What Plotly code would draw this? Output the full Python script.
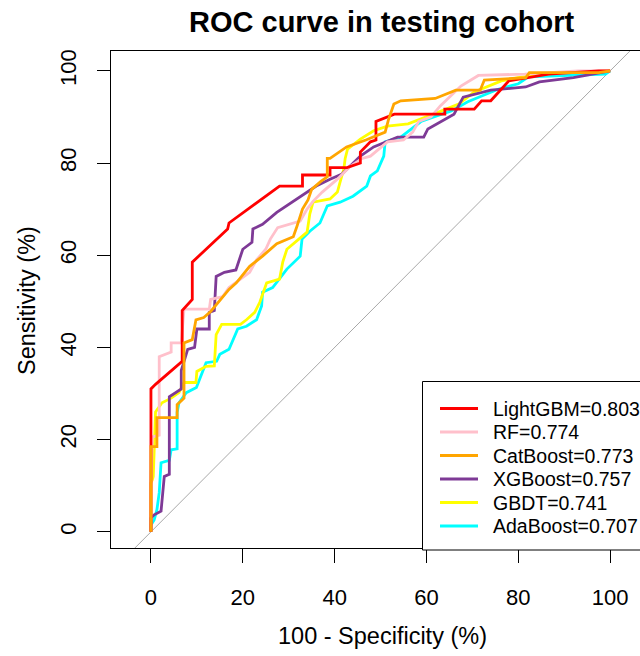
import plotly.graph_objects as go

# ---------------- data (percent) ----------------
model_names = ["LightGBM", "RF", "CatBoost", "XGBoost", "GBDT", "AdaBoost"]
auc_values = ["0.803", "0.774", "0.773", "0.757", "0.741", "0.707"]
model_colors = ["#FF0000", "#FFC0CB", "#FFA500", "#7E3A96", "#FFFF00", "#00FFFF"]

lgb_fpr = [0, 0, 0, 1, 6.8, 6.8, 9, 9, 14.3, 16.7, 17, 28, 33, 33, 39, 39, 42.7, 45.6, 45.6, 47.8,
           49, 49, 53, 64, 64, 70.4, 72, 74, 77.9, 86.6, 97.5, 100]
lgb_sens = [0, 12, 31, 32, 37, 48, 50.4, 58.5, 63.5, 65.7, 67, 75, 75, 77.4, 77.4, 79, 79, 80, 82.4, 84.6,
            85, 89, 90.6, 90.6, 91.7, 91.7, 93.5, 93.5, 97.8, 99.3, 100, 100]

rf_fpr = [0, 0, 0.3, 1.8, 1.8, 4.4, 4.4, 6.6, 7.2, 12.7, 13, 15.6, 17, 21.5, 23, 25, 26, 27.6, 32.5, 34,
          35.3, 37.3, 40.6, 43.4, 46, 47.8, 51.5, 55, 57, 58.3, 61, 63, 64.7, 67.5, 71.3, 81.4, 93, 100]
rf_sens = [0, 10, 20.6, 21, 38, 39, 41, 41, 48.3, 48.3, 50.4, 51, 53, 56.3, 59, 61.3, 63.5, 66, 67.4, 70,
           71.7, 73.7, 76.5, 79.3, 81, 81.5, 84.6, 85, 86.7, 89, 90, 92.4, 94, 96.7, 99, 99.3, 100, 100]

cat_fpr = [0, 0, 1.3, 1.3, 5.7, 5.7, 7.2, 7.2, 9, 9.8, 11.5, 13, 17, 18.6, 21.5, 24.3, 27.4, 28.7, 31, 31.8,
           33, 34.2, 35, 37, 38.4, 38.4, 39, 42.6, 46.8, 51, 51.7, 52.9, 54.4, 61.9, 64.3, 66.4, 71.7, 72.6,
           81.6, 82.4, 97.5, 100]
cat_sens = [0, 18.5, 18.5, 24.8, 24.8, 27.6, 29, 41, 41.7, 46, 46.5, 47.8, 52.6, 54, 57.6, 59.8, 62.5, 63, 64, 66.3,
            70, 72, 74.3, 76, 77, 81, 81, 83.5, 85, 86.7, 89.3, 92.8, 93.5, 94, 95, 95.8, 95.8, 98,
            98.5, 99.6, 99.6, 100]

xgb_fpr = [0, 0, 0.7, 2.2, 2.9, 4, 4, 6.6, 6.6, 8, 9.5, 10, 12.7, 12.7, 13.8, 14.2, 16, 18.5, 20, 22,
           22.2, 24.3, 27.4, 30, 32.5, 36, 39, 41.6, 45.6, 48.5, 53.7, 59.4, 60.3, 63, 66, 68, 74, 81.6,
           84.6, 92, 97.5, 100]
xgb_sens = [0, 3, 3.7, 4.5, 12, 12.5, 29.3, 31, 35, 39.6, 40, 44, 44, 47.6, 48, 55.4, 56.3, 56.8, 61.3, 62.8,
            65.7, 66.7, 69.3, 71, 72.8, 75, 76.5, 77.6, 81.5, 83.5, 85.6, 85.6, 87.4, 89, 90.6, 94.3, 95.8, 96.5,
            97.6, 98.5, 99.6, 100]

gbdt_fpr = [0, 0, 0.3, 0.5, 1, 2.4, 4.4, 6.1, 7.2, 9.8, 10, 12, 13.8, 14.2, 15.4, 19.5, 20.8, 22.6, 23.7, 24.3,
            25.2, 28, 28.7, 29.6, 31.4, 34, 34.6, 35.3, 39, 40.6, 41.2, 42, 42.3, 42.8, 45.6, 48.5, 51.5, 56,
            62.5, 67, 70.4, 73.5, 76.3, 80, 88, 100]
gbdt_sens = [0, 10.6, 11.3, 12, 26, 28, 29, 30.2, 32.4, 32.4, 34.8, 35.9, 36, 42.8, 45, 45, 46, 47.6, 49.8, 51.5,
             54, 54.8, 58.5, 61.3, 62.8, 65, 69, 71.5, 72.2, 73.7, 75.9, 78.7, 81, 83, 85.2, 87, 88, 88.5,
             91, 92.8, 95.4, 96.7, 97.8, 98.5, 99.5, 100]

ada_fpr = [0, 0, 0.7, 1.3, 1.8, 2.2, 4, 4.4, 5.7, 5.7, 6.1, 7.7, 9.9, 12, 14.3, 15, 17, 18.9, 20.8, 23,
           24.1, 24.3, 26.5, 29.6, 32.5, 32.9, 34.6, 36.8, 38.4, 41.2, 44, 47, 47.8, 49.3, 50.7, 51, 54.4,
           58.8, 61.6, 65.4, 69, 75.6, 80, 82.2, 99, 100]
ada_sens = [0, 1.5, 2.6, 4.8, 8.5, 15, 15.5, 17.8, 18, 25.9, 28, 30.2, 31.3, 36.7, 37, 38.5, 39.6, 44, 44.6, 46,
            49, 52, 53, 57, 59.8, 63.5, 65.2, 67, 70.7, 71.5, 72.8, 75, 77.2, 78.3, 81.5, 84.6, 85.6,
            89, 90, 91.3, 93.3, 96, 97.2, 98.7, 99.3, 100]

curves = {
    "LightGBM": (lgb_fpr, lgb_sens),
    "RF": (rf_fpr, rf_sens),
    "CatBoost": (cat_fpr, cat_sens),
    "XGBoost": (xgb_fpr, xgb_sens),
    "GBDT": (gbdt_fpr, gbdt_sens),
    "AdaBoost": (ada_fpr, ada_sens),
}
draw_order = ["AdaBoost", "GBDT", "XGBoost", "RF", "LightGBM", "CatBoost"]
tick_vals = [0, 20, 40, 60, 80, 100]

# ---------------- layout geometry ----------------
W, H = 640, 656
L, R, T, B = 111, 0, 51, 108
x_range = [-8.7, 106.5]
y_range = [-3.5, 104.3]
FONT = "Liberation Sans, Arial, sans-serif"


def px2paper_x(px):
    return (px - L) / (W - L - R)


def px2paper_y(py):
    return (H - B - py) / (H - T - B)


fig = go.Figure()
for name in draw_order:
    i = model_names.index(name)
    fx, sy = curves[name]
    fig.add_trace(go.Scatter(x=fx, y=sy, mode="lines", name=name,
                             line=dict(color=model_colors[i], width=2.8),
                             showlegend=False, hoverinfo="skip"))

shapes = []
# diagonal reference (y = x), clipped to plotting region
d0 = max(x_range[0], y_range[0])
d1 = min(x_range[1], y_range[1])
shapes.append(dict(type="line", xref="x", yref="y", x0=d0, y0=d0, x1=d1, y1=d1,
                   line=dict(color="#A8A8A8", width=1), layer="below"))

# legend box (extends beyond right edge like the original)
shapes.append(dict(type="rect", xref="paper", yref="paper",
                   x0=px2paper_x(422.5), x1=px2paper_x(700),
                   y0=px2paper_y(550), y1=px2paper_y(381.5),
                   line=dict(color="black", width=1), fillcolor="white", layer="above"))

annotations = []
for i, (name, auc, col) in enumerate(zip(model_names, auc_values, model_colors)):
    ry = 408.5 + 23.5 * i
    shapes.append(dict(type="line", xref="paper", yref="paper",
                       x0=px2paper_x(440), x1=px2paper_x(478),
                       y0=px2paper_y(ry), y1=px2paper_y(ry),
                       line=dict(color=col, width=2.8), layer="above"))
    annotations.append(dict(xref="paper", yref="paper", x=px2paper_x(491), y=px2paper_y(ry),
                            xanchor="left", yanchor="middle", showarrow=False,
                            text=f"{name}={auc}", font=dict(family=FONT, size=19.5, color="black")))

# titles
annotations.append(dict(xref="paper", yref="paper", x=px2paper_x(381), y=px2paper_y(22),
                        xanchor="center", yanchor="middle", showarrow=False,
                        text="<b>ROC curve in testing cohort</b>",
                        font=dict(family=FONT, size=29, color="black")))
annotations.append(dict(xref="paper", yref="paper", x=px2paper_x(382), y=px2paper_y(636),
                        xanchor="center", yanchor="middle", showarrow=False,
                        text="100 - Specificity (%)",
                        font=dict(family=FONT, size=23.5, color="black")))
annotations.append(dict(xref="paper", yref="paper", x=px2paper_x(27), y=px2paper_y(301),
                        xanchor="center", yanchor="middle", showarrow=False, textangle=-90,
                        text="Sensitivity (%)",
                        font=dict(family=FONT, size=23.5, color="black")))

fig.update_layout(
    width=W, height=H,
    margin=dict(l=L, r=R, t=T, b=B, autoexpand=False),
    paper_bgcolor="white", plot_bgcolor="white",
    shapes=shapes, annotations=annotations,
    font=dict(family=FONT, color="black"),
    xaxis=dict(range=x_range, tickvals=tick_vals, ticktext=[str(v) for v in tick_vals],
               ticks="outside", ticklen=14, tickwidth=1, tickcolor="black",
               showline=True, linecolor="black", linewidth=1, mirror=True,
               showgrid=False, zeroline=False, ticklabelstandoff=16,
               tickfont=dict(family=FONT, size=22, color="black")),
    yaxis=dict(range=y_range, tickvals=tick_vals, ticktext=[str(v) for v in tick_vals],
               ticks="outside", ticklen=13, tickwidth=1, tickcolor="black",
               showline=True, linecolor="black", linewidth=1, mirror=False,
               showgrid=False, zeroline=False, tickangle=-90, ticklabelstandoff=12,
               tickfont=dict(family=FONT, size=22, color="black")),
)

fig.write_html("out.html",
               config={"displayModeBar": False, "staticPlot": True},
               post_script="document.body.style.margin='0';document.body.style.overflow='hidden';")
